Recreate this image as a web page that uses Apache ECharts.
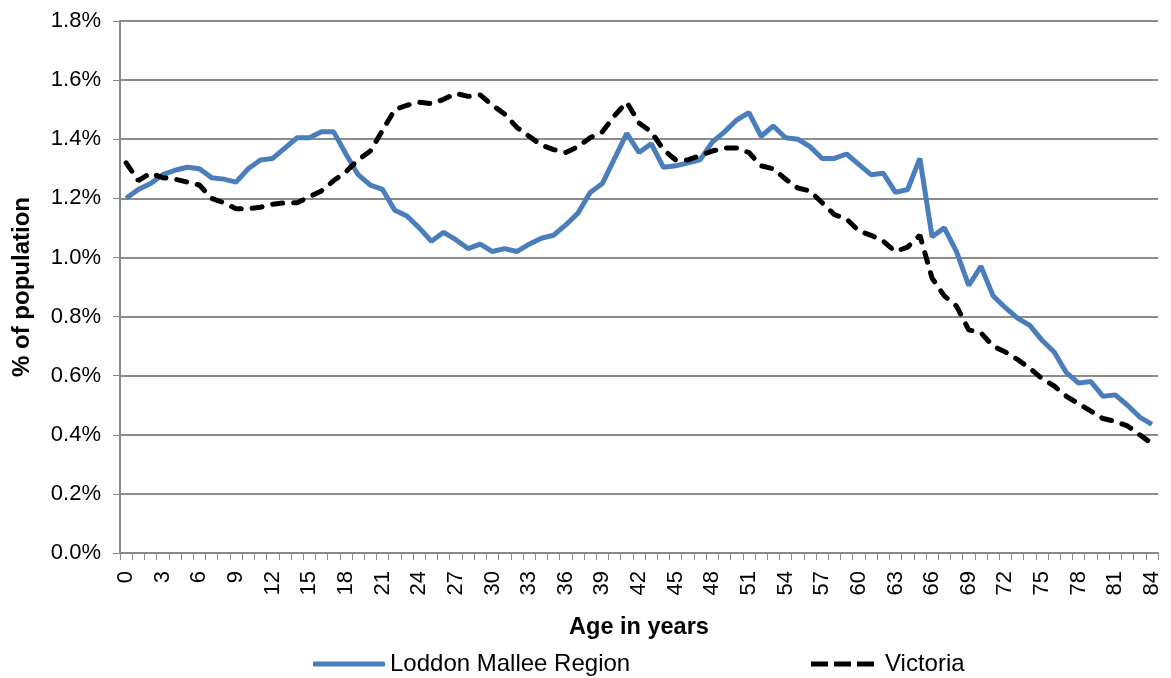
<!DOCTYPE html>
<html>
<head>
<meta charset="utf-8">
<script src="https://cdn.jsdelivr.net/npm/echarts@6/dist/echarts.min.js"></script>
<style>html,body{margin:0;padding:0;background:#fff}#c{width:1171px;height:678px}</style>
</head>
<body>
<div id="c"></div>
<script>
const ages = Array.from({length: 85}, (_, i) => String(i));
const loddonMallee = [1.20,1.23,1.25,1.28,1.295,1.305,1.30,1.27,1.265,1.255,1.30,1.33,1.335,1.37,1.405,1.405,1.425,1.425,1.35,1.28,1.245,1.23,1.16,1.14,1.10,1.055,1.085,1.06,1.03,1.045,1.02,1.03,1.02,1.045,1.065,1.075,1.11,1.15,1.22,1.25,1.335,1.42,1.355,1.385,1.305,1.31,1.32,1.33,1.39,1.425,1.465,1.49,1.41,1.445,1.405,1.40,1.375,1.335,1.335,1.35,1.315,1.28,1.285,1.22,1.23,1.335,1.07,1.10,1.02,0.905,0.97,0.87,0.83,0.795,0.77,0.72,0.68,0.61,0.575,0.58,0.53,0.535,0.50,0.46,0.435];
const victoria = [1.32,1.26,1.285,1.27,1.265,1.255,1.245,1.20,1.185,1.165,1.165,1.17,1.18,1.185,1.185,1.205,1.225,1.26,1.29,1.33,1.36,1.43,1.50,1.515,1.525,1.52,1.535,1.555,1.545,1.55,1.515,1.485,1.44,1.41,1.38,1.365,1.355,1.375,1.405,1.425,1.48,1.525,1.455,1.425,1.365,1.33,1.33,1.345,1.36,1.37,1.37,1.355,1.31,1.30,1.265,1.235,1.225,1.185,1.145,1.13,1.09,1.075,1.055,1.02,1.035,1.075,0.93,0.87,0.835,0.755,0.745,0.70,0.68,0.655,0.625,0.59,0.565,0.53,0.505,0.48,0.455,0.445,0.43,0.40,0.37];
const seriesNames = ['Loddon Mallee Region', 'Victoria'];
const yAxisTitle = '% of population';
const xAxisTitle = 'Age in years';

const FONT = 'Liberation Sans, Arial, sans-serif';
const BLUE = '#4A7EBB';
const chart = echarts.init(document.getElementById('c'));
chart.setOption({
  animation: false,
  grid: {left: 120, right: 13, top: 21, bottom: 125},
  legend: [
    {data: [{name: seriesNames[0], icon: 'roundRect'}], left: 308, top: 647, itemWidth: 72, itemHeight: 5,
     itemStyle: {color: BLUE, borderWidth: 0},
     textStyle: {fontFamily: FONT, fontSize: 24, color: '#000'}},
    {data: [{name: seriesNames[1], icon: 'path://M0,0H17V5H0ZM23,0H40V5H23ZM46,0H63V5H46Z'}], left: 806, top: 647, itemWidth: 63, itemHeight: 5,
     itemStyle: {color: '#000', borderWidth: 0},
     textStyle: {fontFamily: FONT, fontSize: 24, color: '#000', padding: [0, 0, 0, 6]}}
  ],
  xAxis: {
    type: 'category', data: ages, boundaryGap: true,
    name: xAxisTitle, nameLocation: 'middle', nameGap: 63,
    nameTextStyle: {fontFamily: FONT, fontSize: 23.5, fontWeight: 'bold', color: '#000'},
    axisLine: {lineStyle: {color: '#888', width: 2}},
    axisTick: {show: true, interval: 0, length: 7, lineStyle: {color: '#888', width: 1}},
    axisLabel: {interval: 2, rotate: 90, fontFamily: FONT, fontSize: 22, color: '#000', margin: 18}
  },
  yAxis: {
    type: 'value', min: 0, max: 1.8, interval: 0.2,
    name: yAxisTitle, nameLocation: 'middle', nameGap: 86,
    nameTextStyle: {fontFamily: FONT, fontSize: 24, fontWeight: 'bold', color: '#000'},
    axisLine: {show: true, lineStyle: {color: '#888', width: 2}},
    axisTick: {show: true, length: 7, lineStyle: {color: '#888', width: 1}},
    axisLabel: {formatter: v => v.toFixed(1) + '%', fontFamily: FONT, fontSize: 22, color: '#000', margin: 19},
    splitLine: {lineStyle: {color: '#8c8c8c', width: 2}}
  },
  series: [
    {name: seriesNames[0], type: 'line', data: loddonMallee, symbol: 'none',
     lineStyle: {color: BLUE, width: 5}, itemStyle: {color: BLUE}},
    {name: seriesNames[1], type: 'line', data: victoria, symbol: 'none',
     lineStyle: {color: '#000', width: 5, type: [10, 11], cap: 'round'}, itemStyle: {color: '#000'}}
  ]
});
</script>
</body>
</html>
